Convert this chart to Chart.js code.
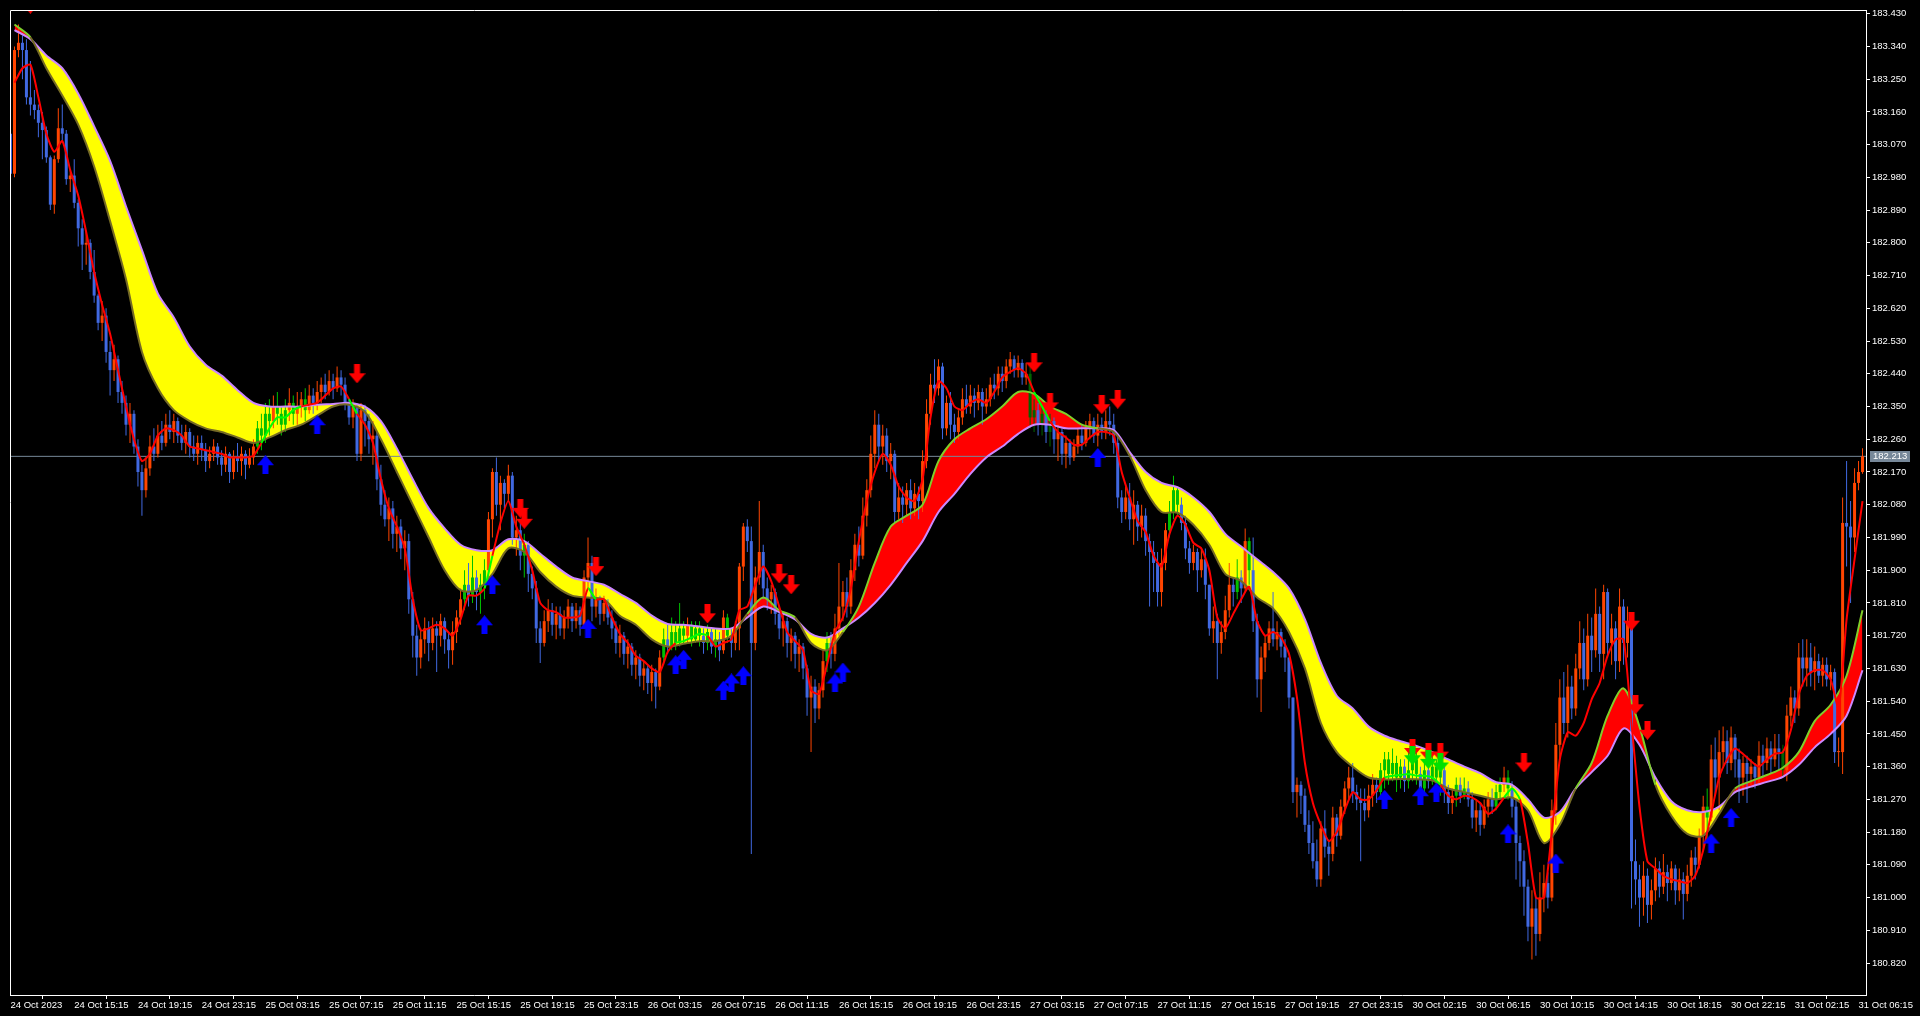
<!DOCTYPE html>
<html>
<head>
<meta charset="utf-8">
<title>M15 chart</title>
<script src="https://cdn.jsdelivr.net/npm/chart.js@4.4.0/dist/chart.umd.min.js"></script>
<style>
  html, body { margin: 0; padding: 0; background: #000; overflow: hidden; }
  #chart { display: block; }
</style>
</head>
<body>
<canvas id="chart" width="1920" height="1016"></canvas>
<script>
// time axis: one label every 16 bars (15 min bars)
const timeLabels = ['24 Oct 2023', '24 Oct 15:15', '24 Oct 19:15', '24 Oct 23:15', '25 Oct 03:15', '25 Oct 07:15',
  '25 Oct 11:15', '25 Oct 15:15', '25 Oct 19:15', '25 Oct 23:15', '26 Oct 03:15', '26 Oct 07:15', '26 Oct 11:15',
  '26 Oct 15:15', '26 Oct 19:15', '26 Oct 23:15', '27 Oct 03:15', '27 Oct 07:15', '27 Oct 11:15', '27 Oct 15:15',
  '27 Oct 19:15', '27 Oct 23:15', '30 Oct 02:15', '30 Oct 06:15', '30 Oct 10:15', '30 Oct 14:15', '30 Oct 18:15',
  '30 Oct 22:15', '31 Oct 02:15', '31 Oct 06:15'];
const labelStep = 16;

const priceTicks = [183.43, 183.34, 183.25, 183.16, 183.07, 182.98, 182.89, 182.80, 182.71, 182.62,
  182.53, 182.44, 182.35, 182.26, 182.17, 182.08, 181.99, 181.90, 181.81, 181.72,
  181.63, 181.54, 181.45, 181.36, 181.27, 181.18, 181.09, 181.00, 180.91, 180.82];

// candles (open = previous close)
const firstOpen = 183.10;
const closes = [
  182.99, 183.33, 183.35, 183.33, 183.20, 183.18, 183.165, 183.13, 183.11, 183.035,
  182.905, 183.03, 183.115, 183.10, 182.975, 182.985, 182.91, 182.84, 182.795, 182.80,
  182.72, 182.655, 182.58, 182.60, 182.50, 182.45, 182.48, 182.39, 182.36, 182.30,
  182.33, 182.24, 182.17, 182.12, 182.18, 182.24, 182.22, 182.27, 182.25, 182.30,
  182.28, 182.31, 182.27, 182.25, 182.28, 182.24, 182.22, 182.25, 182.23, 182.20,
  182.22, 182.24, 182.21, 182.19, 182.22, 182.17, 182.21, 182.20, 182.22, 182.19,
  182.21, 182.24, 182.29, 182.27, 182.33, 182.31, 182.35, 182.33, 182.30, 182.34,
  182.36, 182.33, 182.35, 182.37, 182.34, 182.38, 182.36, 182.39, 182.41, 182.39,
  182.42, 182.40, 182.43, 182.41, 182.36, 182.32, 182.35, 182.22, 182.34, 182.31,
  182.26, 182.27, 182.15, 182.08, 182.04, 182.07, 182.00, 182.02, 181.96, 181.98,
  181.82, 181.72, 181.66, 181.71, 181.74, 181.70, 181.74, 181.72, 181.76, 181.71,
  181.68, 181.73, 181.77, 181.82, 181.86, 181.83, 181.88, 181.84, 181.86, 181.90,
  182.04, 182.17, 182.08, 182.14, 182.11, 182.16, 181.99, 182.01, 181.94, 181.97,
  181.89, 181.85, 181.74, 181.70, 181.76, 181.79, 181.75, 181.78, 181.74, 181.77,
  181.80, 181.76, 181.79, 181.75, 181.88, 181.92, 181.80, 181.82, 181.78, 181.81,
  181.77, 181.74, 181.70, 181.72, 181.67, 181.69, 181.64, 181.66, 181.61, 181.63,
  181.59, 181.62, 181.58, 181.66, 181.71, 181.69, 181.73, 181.70, 181.74, 181.72,
  181.75, 181.71, 181.74, 181.72, 181.70, 181.73, 181.69, 181.71, 181.68, 181.77,
  181.72, 181.70, 181.74, 181.91, 182.02, 181.98, 181.70, 181.88, 181.95, 181.85,
  181.82, 181.84, 181.78, 181.74, 181.76, 181.70, 181.72, 181.67, 181.69, 181.63,
  181.55, 181.58, 181.52, 181.57, 181.65, 181.70, 181.67, 181.74, 181.80, 181.84,
  181.80, 181.90, 181.97, 181.94, 182.05, 182.12, 182.22, 182.30, 182.24, 182.27,
  182.20, 182.22, 182.06, 182.10, 182.08, 182.12, 182.07, 182.11, 182.09, 182.20,
  182.33, 182.41, 182.40, 182.46, 182.29, 182.36, 182.30, 182.28, 182.32, 182.37,
  182.35, 182.38, 182.36, 182.39, 182.35, 182.37, 182.41, 182.40, 182.44, 182.42,
  182.46, 182.48, 182.45, 182.47, 182.43, 182.44, 182.32, 182.34, 182.30, 182.33,
  182.28, 182.31, 182.26, 182.28, 182.22, 182.25, 182.21, 182.24, 182.27, 182.25,
  182.29, 182.31, 182.27, 182.30, 182.28, 182.31, 182.30, 182.25, 182.10, 182.06,
  182.10, 182.04, 182.08, 182.02, 182.05, 181.98, 181.95, 181.92, 181.84, 181.92,
  182.01, 182.06, 182.12, 182.08, 182.03, 181.96, 181.92, 181.95, 181.90, 181.93,
  181.86, 181.74, 181.76, 181.70, 181.73, 181.79, 181.86, 181.84, 181.88, 181.85,
  181.98, 181.90, 181.76, 181.60, 181.66, 181.70, 181.74, 181.71, 181.73, 181.69,
  181.66, 181.55, 181.29, 181.31, 181.28, 181.20, 181.15, 181.10, 181.05, 181.19,
  181.14, 181.12, 181.22, 181.17, 181.25, 181.30, 181.33, 181.29, 181.27, 181.26,
  181.24, 181.28, 181.31, 181.29, 181.35, 181.38, 181.34, 181.37, 181.33, 181.36,
  181.32, 181.35, 181.38, 181.34, 181.30, 181.35, 181.32, 181.36, 181.33, 181.35,
  181.29, 181.26, 181.28, 181.31, 181.28, 181.30, 181.27, 181.22, 181.24, 181.20,
  181.25, 181.27, 181.25, 181.29, 181.31, 181.33, 181.30, 181.25, 181.15, 181.10,
  181.03, 180.92, 180.97, 180.90, 181.00, 181.04, 181.00, 181.24, 181.42, 181.55,
  181.48, 181.58, 181.52, 181.63, 181.70, 181.60, 181.72, 181.68, 181.78, 181.67,
  181.84, 181.70, 181.74, 181.65, 181.80, 181.70, 181.76, 181.10, 181.05, 181.00,
  181.06, 180.98, 181.02, 181.08, 181.03, 181.07, 181.04, 181.08, 181.02, 181.05,
  181.01, 181.06, 181.11, 181.09, 181.17, 181.25, 181.22, 181.38, 181.33, 181.40,
  181.43, 181.37, 181.44, 181.38, 181.33, 181.37, 181.34, 181.36, 181.33, 181.39,
  181.37, 181.41, 181.38, 181.41, 181.40, 181.35, 181.50, 181.55, 181.52, 181.66,
  181.63, 181.66, 181.62, 181.65, 181.61, 181.64, 181.60, 181.62, 181.40, 181.40,
  182.03, 182.02, 181.99, 182.14, 182.17, 182.213
];
const highs = [
  183.11, 183.34, 183.40, 183.37, 183.36, 183.30, 183.22, 183.18, 183.16, 183.12,
  183.04, 183.04, 183.17, 183.18, 183.11, 183.00, 183.03, 182.92, 182.865, 182.83,
  182.81, 182.78, 182.66, 182.64, 182.62, 182.53, 182.52, 182.49, 182.42, 182.38,
  182.36, 182.34, 182.26, 182.19, 182.21, 182.27, 182.29, 182.30, 182.31, 182.33,
  182.34, 182.33, 182.32, 182.30, 182.30, 182.29, 182.27, 182.27, 182.27, 182.25,
  182.24, 182.26, 182.25, 182.23, 182.24, 182.225, 182.23, 182.25, 182.24, 182.23,
  182.235, 182.26, 182.31, 182.33, 182.36, 182.37, 182.38, 182.39, 182.35, 182.37,
  182.40, 182.38, 182.39, 182.39, 182.40, 182.41, 182.40, 182.42, 182.43, 182.44,
  182.45, 182.44, 182.46, 182.45, 182.43, 182.37, 182.37, 182.36, 182.36, 182.355,
  182.33, 182.31, 182.28, 182.19, 182.12, 182.10, 182.09, 182.05, 182.04, 182.01,
  182.00, 181.84, 181.75, 181.74, 181.77, 181.76, 181.77, 181.76, 181.78, 181.77,
  181.73, 181.76, 181.79, 181.85, 181.90, 181.92, 181.94, 181.90, 181.89, 181.93,
  182.06, 182.18, 182.21, 182.16, 182.15, 182.19, 182.17, 182.05, 182.03, 182.00,
  181.98, 181.91, 181.87, 181.76, 181.79, 181.82, 181.81, 181.80, 181.80, 181.79,
  181.82, 181.81, 181.81, 181.80, 181.90, 181.99, 181.94, 181.85, 181.83, 181.83,
  181.82, 181.79, 181.76, 181.75, 181.73, 181.71, 181.70, 181.68, 181.67, 181.65,
  181.64, 181.64, 181.63, 181.68, 181.74, 181.75, 181.77, 181.76, 181.81, 181.76,
  181.77, 181.76, 181.76, 181.76, 181.74, 181.75, 181.74, 181.74, 181.73, 181.79,
  181.78, 181.74, 181.76, 181.92, 182.03, 182.04, 182.02, 181.91, 182.09, 181.97,
  181.88, 181.86, 181.85, 181.80, 181.78, 181.77, 181.74, 181.73, 181.71, 181.70,
  181.64, 181.61, 181.60, 181.59, 181.68, 181.73, 181.73, 181.78, 181.92, 181.87,
  181.88, 181.93, 182.00, 182.02, 182.10, 182.15, 182.27, 182.34, 182.33, 182.30,
  182.29, 182.25, 182.23, 182.14, 182.13, 182.14, 182.15, 182.14, 182.13, 182.23,
  182.37, 182.44, 182.48, 182.48, 182.47, 182.38, 182.39, 182.33, 182.34, 182.40,
  182.41, 182.41, 182.40, 182.41, 182.40, 182.40, 182.43, 182.44, 182.46, 182.46,
  182.48, 182.50, 182.49, 182.49, 182.48, 182.47, 182.46, 182.37, 182.36, 182.35,
  182.34, 182.33, 182.32, 182.30, 182.29, 182.27, 182.26, 182.26, 182.29, 182.30,
  182.31, 182.33, 182.32, 182.33, 182.32, 182.34, 182.35, 182.33, 182.27, 182.12,
  182.13, 182.14, 182.12, 182.09, 182.08, 182.07, 182.00, 181.98, 181.95, 181.96,
  182.03, 182.09, 182.16, 182.13, 182.10, 182.05, 181.98, 181.97, 181.96, 181.96,
  181.96, 181.86, 181.80, 181.78, 181.76, 181.83, 181.92, 181.88, 181.93, 181.90,
  182.015, 181.99, 181.99, 181.78, 181.69, 181.72, 181.76, 181.84, 181.76, 181.74,
  181.71, 181.66, 181.54, 181.33, 181.32, 181.30, 181.24, 181.21, 181.16, 181.21,
  181.24, 181.16, 181.25, 181.23, 181.27, 181.32, 181.36, 181.37, 181.31, 181.30,
  181.30, 181.31, 181.34, 181.33, 181.37, 181.40, 181.40, 181.41, 181.39, 181.38,
  181.38, 181.40, 181.41, 181.40, 181.36, 181.38, 181.39, 181.39, 181.38, 181.37,
  181.36, 181.31, 181.30, 181.33, 181.33, 181.33, 181.32, 181.29, 181.27, 181.26,
  181.27, 181.29, 181.30, 181.31, 181.33, 181.36, 181.35, 181.32, 181.27, 181.17,
  181.13, 181.05, 181.02, 181.00, 181.07, 181.09, 181.07, 181.27, 181.48, 181.60,
  181.62, 181.64, 181.61, 181.67, 181.76, 181.74, 181.78, 181.77, 181.85, 181.80,
  181.86, 181.85, 181.78, 181.76, 181.85, 181.82, 181.80, 181.78, 181.16, 181.09,
  181.10, 181.08, 181.05, 181.11, 181.10, 181.12, 181.09, 181.10, 181.09, 181.08,
  181.07, 181.09, 181.13, 181.14, 181.19, 181.28, 181.30, 181.42, 181.44, 181.46,
  181.47, 181.46, 181.47, 181.45, 181.41, 181.39, 181.39, 181.38, 181.37, 181.43,
  181.42, 181.44, 181.43, 181.45, 181.45, 181.42, 181.53, 181.58, 181.57, 181.70,
  181.71, 181.71, 181.70, 181.69, 181.67, 181.66, 181.66, 181.64, 181.63, 181.44,
  182.10, 182.20, 182.09, 182.18, 182.20, 182.235
];
const lows = [
  182.96, 182.98, 183.31, 183.25, 183.18, 183.15, 183.14, 183.09, 183.03, 183.02,
  182.89, 182.88, 183.02, 183.08, 182.96, 182.94, 182.895, 182.79, 182.725, 182.74,
  182.70, 182.635, 182.56, 182.53, 182.47, 182.38, 182.42, 182.36, 182.33, 182.27,
  182.25, 182.22, 182.13, 182.05, 182.10, 182.16, 182.20, 182.21, 182.23, 182.24,
  182.26, 182.25, 182.25, 182.23, 182.22, 182.21, 182.20, 182.19, 182.20, 182.17,
  182.18, 182.20, 182.19, 182.16, 182.17, 182.14, 182.15, 182.17, 182.16, 182.15,
  182.18, 182.19, 182.22, 182.23, 182.25, 182.27, 182.29, 182.30, 182.27, 182.28,
  182.31, 182.30, 182.30, 182.32, 182.31, 182.33, 182.33, 182.34, 182.36, 182.37,
  182.38, 182.37, 182.39, 182.38, 182.34, 182.30, 182.29, 182.20, 182.20, 182.24,
  182.22, 182.19, 182.12, 182.05, 182.02, 181.98, 181.96, 181.95, 181.93, 181.90,
  181.78, 181.66, 181.61, 181.63, 181.67, 181.65, 181.68, 181.62, 181.69, 181.67,
  181.63, 181.64, 181.70, 181.75, 181.79, 181.80, 181.81, 181.79, 181.78, 181.82,
  181.88, 181.99, 182.05, 182.01, 182.07, 182.09, 181.97, 181.94, 181.90, 181.88,
  181.84, 181.82, 181.70, 181.645, 181.69, 181.73, 181.72, 181.71, 181.72, 181.71,
  181.74, 181.73, 181.74, 181.72, 181.74, 181.85, 181.76, 181.77, 181.75, 181.76,
  181.75, 181.71, 181.67, 181.66, 181.64, 181.63, 181.61, 181.60, 181.58, 181.57,
  181.56, 181.54, 181.52, 181.57, 181.64, 181.67, 181.68, 181.68, 181.69, 181.70,
  181.70, 181.69, 181.70, 181.69, 181.67, 181.68, 181.67, 181.66, 181.65, 181.67,
  181.70, 181.66, 181.68, 181.68, 181.87, 181.95, 181.12, 181.68, 181.86, 181.82,
  181.79, 181.78, 181.75, 181.71, 181.69, 181.66, 181.65, 181.63, 181.62, 181.60,
  181.50, 181.40, 181.48, 181.49, 181.55, 181.62, 181.63, 181.65, 181.72, 181.76,
  181.77, 181.78, 181.87, 181.91, 181.93, 182.02, 182.10, 182.18, 182.20, 182.19,
  182.17, 182.15, 182.03, 182.04, 182.03, 182.05, 182.04, 182.05, 182.04, 182.06,
  182.18, 182.30, 182.36, 182.38, 182.26, 182.27, 182.26, 182.25, 182.26, 182.30,
  182.33, 182.33, 182.32, 182.34, 182.30, 182.33, 182.35, 182.37, 182.38, 182.39,
  182.40, 182.44, 182.43, 182.43, 182.41, 182.41, 182.29, 182.28, 182.27, 182.27,
  182.25, 182.24, 182.22, 182.20, 182.19, 182.18, 182.19, 182.20, 182.22, 182.23,
  182.24, 182.26, 182.25, 182.24, 182.26, 182.26, 182.27, 182.22, 182.07, 182.03,
  182.04, 182.01, 181.97, 181.98, 181.99, 181.94, 181.80, 181.84, 181.80, 181.80,
  181.90, 181.99, 182.04, 182.05, 182.01, 181.93, 181.89, 181.90, 181.84, 181.88,
  181.82, 181.72, 181.70, 181.60, 181.67, 181.71, 181.77, 181.80, 181.82, 181.81,
  181.84, 181.86, 181.73, 181.55, 181.51, 181.62, 181.68, 181.69, 181.68, 181.66,
  181.62, 181.52, 181.26, 181.22, 181.23, 181.18, 181.12, 181.08, 181.03, 181.03,
  181.11, 181.06, 181.10, 181.14, 181.16, 181.23, 181.27, 181.26, 181.24, 181.10,
  181.21, 181.22, 181.25, 181.26, 181.28, 181.30, 181.31, 181.32, 181.29, 181.30,
  181.29, 181.30, 181.32, 181.31, 181.27, 181.28, 181.30, 181.31, 181.30, 181.28,
  181.26, 181.23, 181.23, 181.25, 181.26, 181.27, 181.25, 181.19, 181.18, 181.17,
  181.19, 181.22, 181.23, 181.24, 181.27, 181.29, 181.27, 181.22, 181.05, 181.03,
  180.95, 180.88, 180.83, 180.84, 180.88, 180.96, 180.97, 180.99, 181.20, 181.38,
  181.45, 181.44, 181.49, 181.50, 181.60, 181.57, 181.58, 181.62, 181.66, 181.62,
  181.60, 181.66, 181.64, 181.60, 181.62, 181.64, 181.66, 180.97, 180.98, 180.92,
  180.95, 180.93, 180.94, 180.99, 181.00, 181.01, 180.99, 181.02, 180.98, 180.99,
  180.94, 180.99, 181.03, 181.05, 181.08, 181.13, 181.15, 181.21, 181.28, 181.24,
  181.36, 181.34, 181.35, 181.33, 181.26, 181.28, 181.26, 181.31, 181.30, 181.31,
  181.33, 181.35, 181.34, 181.36, 181.35, 181.33, 181.32, 181.47, 181.48, 181.50,
  181.58, 181.58, 181.58, 181.57, 181.59, 181.58, 181.58, 181.57, 181.37, 181.36,
  181.34, 181.91, 181.81, 181.95, 182.12, 182.165
];

// band lines, one value every 4 bars starting at bar 1
const bandStart = 1, bandStep = 4;
const slowBand = [
  183.385, 183.36, 183.315, 183.28, 183.21, 183.12, 183.025, 182.90, 182.78, 182.66,
  182.595, 182.515, 182.465, 182.435, 182.395, 182.36, 182.35, 182.35, 182.35, 182.355,
  182.357, 182.36, 182.35, 182.31, 182.235, 182.15, 182.07, 182.015, 181.97, 181.955,
  181.955, 181.985, 181.98, 181.945, 181.91, 181.88, 181.87, 181.86, 181.835, 181.81,
  181.775, 181.752, 181.75, 181.745, 181.74, 181.74, 181.77, 181.80, 181.785, 181.765,
  181.725, 181.715, 181.74, 181.77, 181.81, 181.86, 181.92, 181.98, 182.06, 182.11,
  182.165, 182.21, 182.24, 182.275, 182.30, 182.30, 182.29, 182.29, 182.29, 182.285,
  182.225, 182.17, 182.14, 182.128, 182.10, 182.06, 182.00, 181.965, 181.93, 181.895,
  181.85, 181.765, 181.645, 181.555, 181.52, 181.47, 181.445, 181.43, 181.417, 181.40,
  181.38, 181.36, 181.342, 181.317, 181.31, 181.27, 181.22, 181.235, 181.30, 181.345,
  181.39, 181.465, 181.42, 181.33, 181.265, 181.24, 181.235, 181.25, 181.29, 181.305,
  181.318, 181.332, 181.365, 181.413, 181.45, 181.50, 181.625
];
const fastBand = [
  183.40, 183.365, 183.28, 183.205, 183.125, 183.01, 182.86, 182.70, 182.50, 182.40,
  182.34, 182.31, 182.29, 182.28, 182.265, 182.25, 182.265, 182.285, 182.30, 182.325,
  182.35, 182.355, 182.335, 182.26, 182.17, 182.08, 181.99, 181.90, 181.845, 181.845,
  181.89, 181.96, 181.95, 181.895, 181.855, 181.83, 181.825, 181.82, 181.775, 181.75,
  181.71, 181.69, 181.698, 181.705, 181.705, 181.72, 181.78, 181.825, 181.79, 181.77,
  181.70, 181.68, 181.73, 181.80, 181.92, 182.02, 182.05, 182.08, 182.20, 182.26,
  182.29, 182.315, 182.35, 182.39, 182.385, 182.35, 182.33, 182.30, 182.29, 182.28,
  182.215, 182.12, 182.06, 182.058, 182.025, 181.97, 181.89, 181.87, 181.825, 181.795,
  181.73, 181.63, 181.48, 181.40, 181.36, 181.33, 181.325, 181.326, 181.325, 181.322,
  181.30, 181.29, 181.28, 181.27, 181.275, 181.24, 181.15, 181.20, 181.30, 181.37,
  181.50, 181.575, 181.47, 181.31, 181.225, 181.175, 181.17, 181.23, 181.30, 181.32,
  181.337, 181.357, 181.40, 181.485, 181.53, 181.61, 181.79
];

// fast moving average, one value every 2 bars starting at bar 1
const signalStart = 1, signalStep = 2;
const signalLine = [
  183.24, 183.28, 183.29, 183.20, 183.10, 183.05, 183.08, 183.00, 182.93, 182.83,
  182.72, 182.63, 182.55, 182.45, 182.35, 182.26, 182.20, 182.22, 182.27, 182.29,
  182.285, 182.27, 182.24, 182.235, 182.23, 182.225, 182.22, 182.21, 182.21, 182.21,
  182.215, 182.25, 182.29, 182.32, 182.32, 182.34, 182.35, 182.355, 182.36, 182.38,
  182.40, 182.405, 182.37, 182.33, 182.30, 182.25, 182.15, 182.07, 182.02, 181.96,
  181.82, 181.735, 181.74, 181.75, 181.74, 181.72, 181.765, 181.83, 181.83, 181.85,
  181.94, 182.03, 182.09, 182.02, 181.97, 181.90, 181.81, 181.79, 181.785, 181.77,
  181.77, 181.775, 181.85, 181.82, 181.82, 181.77, 181.725, 181.70, 181.665, 181.65,
  181.63, 181.62, 181.675, 181.70, 181.705, 181.715, 181.725, 181.72, 181.69, 181.70,
  181.71, 181.79, 181.80, 181.86, 181.91, 181.87, 181.80, 181.73, 181.705, 181.68,
  181.57, 181.56, 181.64, 181.73, 181.77, 181.85, 181.98, 182.09, 182.17, 182.22,
  182.19, 182.13, 182.10, 182.09, 182.15, 182.32, 182.42, 182.40, 182.35, 182.34,
  182.36, 182.37, 182.36, 182.39, 182.43, 182.445, 182.455, 182.44, 182.39, 182.35,
  182.31, 182.28, 182.265, 182.245, 182.245, 182.265, 182.28, 182.28, 182.27, 182.17,
  182.10, 182.035, 182.005, 181.94, 181.91, 182.00, 182.05, 182.025, 181.975, 181.96,
  181.90, 181.77, 181.74, 181.78, 181.82, 181.855, 181.76, 181.72, 181.73, 181.715,
  181.67, 181.55, 181.37, 181.26, 181.20, 181.155, 181.18, 181.24, 181.29, 181.27,
  181.27, 181.295, 181.33, 181.335, 181.337, 181.34, 181.335, 181.335, 181.33, 181.31,
  181.28, 181.27, 181.28, 181.275, 181.26, 181.23, 181.245, 181.275, 181.30, 181.27,
  181.15, 181.00, 181.00, 181.18, 181.38, 181.455, 181.445, 181.48, 181.545, 181.59,
  181.665, 181.71, 181.71, 181.48, 181.25, 181.10, 181.08, 181.06, 181.05, 181.045,
  181.04, 181.06, 181.13, 181.23, 181.33, 181.38, 181.41, 181.395, 181.375, 181.36,
  181.38, 181.395, 181.40, 181.46, 181.56, 181.61, 181.625, 181.625, 181.60, 181.52,
  181.765, 181.93, 182.09
];

// signal arrows [bar, price]
const buyArrows = [[64, 182.19], [77, 182.30], [119, 181.75], [121, 181.86], [145, 181.74], [167, 181.64],
  [169, 181.655], [179, 181.57], [181, 181.59], [184, 181.61], [207, 181.59], [209, 181.62], [273, 182.21],
  [345, 181.27], [354, 181.28], [358, 181.29], [376, 181.175], [388, 181.095], [427, 181.15], [432, 181.22]];
const sellArrows = [[5, 183.456], [87, 182.44], [128, 182.07], [129, 182.04], [147, 181.91], [175, 181.78],
  [193, 181.89], [196, 181.86], [257, 182.47], [261, 182.36], [274, 182.355], [278, 182.37], [352, 181.41],
  [356, 181.40], [359, 181.40], [380, 181.37], [407, 181.76], [408, 181.53], [411, 181.46]];
const exitArrows = [[352, 181.39], [356, 181.38], [359, 181.37]];

// ------------------------------------------------------------
const opens = closes.map((c, i) => i === 0 ? firstOpen : closes[i - 1]);
const lastPrice = closes[closes.length - 1];
const xMin = -0.125, xMax = closes.length - 0.125;

function lineValue(arr, start, step, bar) {
  const t = (bar - start) / step;
  const i = Math.max(0, Math.min(arr.length - 2, Math.floor(t)));
  const f = Math.max(0, Math.min(1, t - i));
  return arr[i] + (arr[i + 1] - arr[i]) * f;
}
const slowAt = bar => lineValue(slowBand, bandStart, bandStep, bar);
const fastAt = bar => lineValue(fastBand, bandStart, bandStep, bar);

const candleColors = closes.map((c, i) => {
  const a = slowAt(i), b = fastAt(i);
  if (Math.abs(a - b) > 0.015 && c > Math.min(a, b) && c < Math.max(a, b)) {
    return b > a ? '#006400' : '#00c000';
  }
  return c >= opens[i] ? '#ff4500' : '#4169e1';
});

function makeArrow(color, up) {
  const w = 17, h = 19;
  const cv = document.createElement('canvas');
  cv.width = w; cv.height = h;
  const g = cv.getContext('2d');
  const pts = [[8.5, 0], [17, 10], [11.5, 10], [11.5, 19], [5.5, 19], [5.5, 10], [0, 10]];
  g.fillStyle = color;
  g.beginPath();
  pts.forEach(([x, y], k) => {
    const yy = up ? y : h - y;
    if (k) g.lineTo(x, yy); else g.moveTo(x, yy);
  });
  g.closePath();
  g.fill();
  return cv;
}

const toPoints = (arr, start, step) => arr.map((v, i) => ({ x: start + i * step, y: v }));
const arrowPoints = arr => arr.map(([x, y]) => ({ x: x, y: y }));

const axisFamily = '"Liberation Sans", Arial, sans-serif';

const framePlugin = {
  id: 'frame',
  afterDraw(chart) {
    const { ctx, chartArea } = chart;
    ctx.save();
    ctx.strokeStyle = '#ffffff';
    ctx.lineWidth = 1;
    ctx.beginPath();
    ctx.moveTo(chartArea.left + 0.5, chartArea.bottom);
    ctx.lineTo(chartArea.left + 0.5, chartArea.top + 0.5);
    ctx.lineTo(chartArea.right, chartArea.top + 0.5);
    ctx.stroke();
    // current price tag on the price axis
    const y = Math.round(chart.scales.y.getPixelForValue(lastPrice));
    ctx.fillStyle = '#778899';
    ctx.fillRect(chartArea.right + 4, y - 5, 40, 11);
    ctx.fillStyle = '#ffffff';
    ctx.font = '9.5px ' + axisFamily;
    ctx.textBaseline = 'middle';
    ctx.fillText(lastPrice.toFixed(3), chartArea.right + 7, y + 0.5);
    ctx.restore();
  }
};

const tickFont = { family: axisFamily, size: 9.5 };

new Chart(document.getElementById('chart'), {
  type: 'bar',
  data: {
    datasets: [
      {
        type: 'line',
        data: [{ x: xMin, y: lastPrice }, { x: xMax, y: lastPrice }],
        borderColor: '#778899',
        borderWidth: 1,
        pointRadius: 0,
        order: 8
      },
      {
        data: closes.map((c, i) => ({ x: i, y: [Math.min(lows[i], opens[i], c), Math.max(highs[i], opens[i], c)] })),
        backgroundColor: candleColors,
        barThickness: 1,
        grouped: false,
        inflateAmount: 0,
        minBarLength: 1,
        order: 7
      },
      {
        data: closes.map((c, i) => ({ x: i, y: [opens[i], c] })),
        backgroundColor: candleColors,
        barThickness: 3,
        grouped: false,
        inflateAmount: 0,
        minBarLength: 1,
        order: 6
      },
      {
        type: 'line',
        data: toPoints(slowBand, bandStart, bandStep),
        borderColor: '#cc88ff',
        borderWidth: 2,
        pointRadius: 0,
        tension: 0.3,
        fill: false,
        order: 5
      },
      {
        type: 'line',
        data: toPoints(fastBand, bandStart, bandStep),
        borderWidth: 2,
        pointRadius: 0,
        tension: 0.3,
        fill: { target: 3, above: '#ff0000', below: '#ffff00' },
        segment: {
          borderColor: ctx => (fastBand[ctx.p0DataIndex] + fastBand[ctx.p1DataIndex] >
            slowBand[ctx.p0DataIndex] + slowBand[ctx.p1DataIndex]) ? '#7fcf2a' : '#756a25'
        },
        order: 4
      },
      {
        type: 'line',
        data: toPoints(signalLine, signalStart, signalStep),
        borderWidth: 2,
        pointRadius: 0,
        tension: 0.2,
        segment: {
          borderColor: ctx => {
            const bar = signalStart + (ctx.p0DataIndex + 0.5) * signalStep;
            const v = (signalLine[ctx.p0DataIndex] + signalLine[ctx.p1DataIndex]) / 2;
            const a = slowAt(bar), b = fastAt(bar);
            return (v > Math.min(a, b) && v < Math.max(a, b)) ? '#00ff00' : '#ff0000';
          }
        },
        order: 3
      },
      {
        type: 'line',
        data: arrowPoints(buyArrows),
        showLine: false,
        pointStyle: makeArrow('#0000ff', true),
        pointRadius: 9,
        order: 2
      },
      {
        type: 'line',
        data: arrowPoints(sellArrows),
        showLine: false,
        pointStyle: makeArrow('#ff0000', false),
        pointRadius: 9,
        order: 2
      },
      {
        type: 'line',
        data: arrowPoints(exitArrows),
        showLine: false,
        pointStyle: makeArrow('#00e000', false),
        pointRadius: 9,
        order: 1
      }
    ]
  },
  options: {
    responsive: false,
    animation: false,
    devicePixelRatio: 1,
    layout: { padding: { left: 2, top: 2, right: 0, bottom: 0 } },
    plugins: {
      legend: { display: false },
      tooltip: { enabled: false },
      filler: { drawTime: 'beforeDatasetsDraw' }
    },
    scales: {
      x: {
        type: 'linear',
        min: xMin,
        max: xMax,
        offset: false,
        grid: { display: true, drawOnChartArea: false, drawTicks: true, tickLength: 4, color: '#ffffff' },
        border: { display: true, color: '#ffffff', width: 1 },
        ticks: {
          color: '#ffffff', font: tickFont, align: 'start', maxRotation: 0, minRotation: 0,
          autoSkip: false, padding: 1,
          callback: (v, i) => timeLabels[i]
        },
        afterBuildTicks: s => { s.ticks = timeLabels.map((t, i) => ({ value: i * labelStep })); },
        afterFit: s => { s.height = 21; s.paddingLeft = 0; s.paddingRight = 0; }
      },
      y: {
        type: 'linear',
        position: 'right',
        min: 180.7322,
        max: 183.4401,
        beginAtZero: false,
        grid: { display: true, drawOnChartArea: false, drawTicks: true, tickLength: 4, color: '#ffffff' },
        border: { display: true, color: '#ffffff', width: 1 },
        ticks: { color: '#ffffff', font: tickFont, padding: 2, callback: v => v.toFixed(3) },
        afterBuildTicks: s => { s.ticks = priceTicks.map(v => ({ value: v })); },
        afterFit: s => { s.width = 54; s.paddingTop = 0; s.paddingBottom = 0; }
      }
    }
  },
  plugins: [framePlugin]
});
</script>
</body>
</html>
